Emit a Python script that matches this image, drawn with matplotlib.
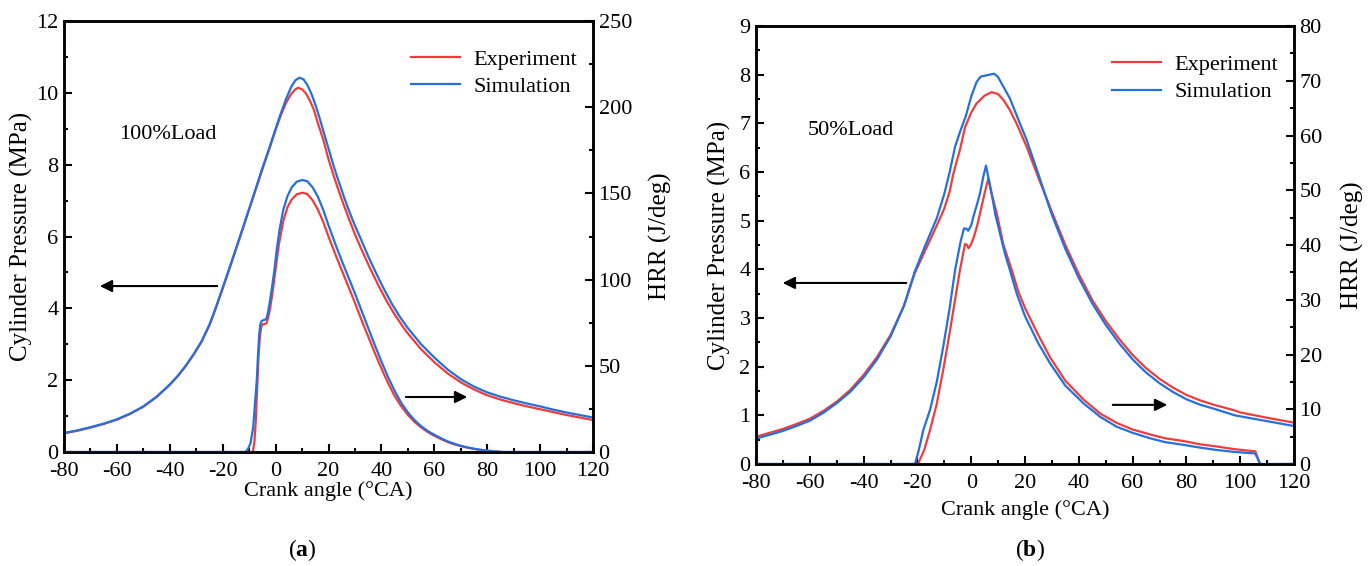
import matplotlib
matplotlib.use('Agg')
import matplotlib.pyplot as plt
from matplotlib.ticker import MultipleLocator

plt.rcParams['font.family'] = ['Liberation Serif', 'DejaVu Serif']
plt.rcParams['axes.unicode_minus'] = False
plt.rcParams['mathtext.fontset'] = 'custom'
plt.rcParams['mathtext.rm'] = 'Liberation Serif'
plt.rcParams['mathtext.bf'] = 'Liberation Serif:bold'

RED = '#f03c3c'
BLUE = '#2470dc'

# ---- (a) 100% load ----
ca_pexp_a = [-80, -75, -70, -65, -60, -55, -50, -45, -40, -37, -34, -31, -28, -25, -23, -21, -17, -14, -11, -8, -5, -2, 0, 2, 4, 6, 7.5, 8.5, 10, 11.5, 13, 14.5, 16, 18, 20, 22, 24, 26, 28, 30, 33, 36, 39, 42, 45, 48, 50, 55, 60, 65, 70, 75, 80, 85, 90, 95, 100, 105, 110, 115, 120]
p_exp_a = [0.52, 0.59, 0.68, 0.78, 0.90, 1.06, 1.26, 1.53, 1.87, 2.11, 2.39, 2.71, 3.07, 3.53, 3.92, 4.34, 5.2, 5.86, 6.53, 7.2, 7.87, 8.52, 8.97, 9.38, 9.73, 9.98, 10.1, 10.14, 10.1, 9.98, 9.78, 9.52, 9.15, 8.7, 8.15, 7.68, 7.24, 6.83, 6.44, 6.06, 5.55, 5.07, 4.62, 4.2, 3.83, 3.5, 3.3, 2.86, 2.5, 2.19, 1.94, 1.74, 1.58, 1.46, 1.36, 1.27, 1.19, 1.11, 1.03, 0.96, 0.89]
ca_psim_a = [-80, -75, -70, -65, -60, -55, -50, -45, -40, -37, -34, -31, -28, -25, -23, -21, -17, -14, -11, -8, -5, -2, 0, 2, 4, 6, 7.5, 9, 10.5, 12, 13.5, 15, 16.5, 18, 20, 22, 24, 26, 28, 30, 32.3, 35, 38, 41, 44, 47, 50, 55, 60, 65, 70, 75, 80, 85, 90, 95, 100, 105, 110, 115, 120]
p_sim_a = [0.53, 0.60, 0.69, 0.79, 0.91, 1.07, 1.27, 1.54, 1.88, 2.12, 2.40, 2.72, 3.08, 3.55, 3.94, 4.36, 5.22, 5.88, 6.55, 7.22, 7.9, 8.55, 9.0, 9.43, 9.84, 10.18, 10.35, 10.42, 10.38, 10.22, 9.98, 9.68, 9.33, 8.95, 8.45, 7.95, 7.5, 7.07, 6.67, 6.3, 5.92, 5.45, 4.98, 4.53, 4.12, 3.76, 3.45, 3.0, 2.63, 2.3, 2.03, 1.82, 1.66, 1.54, 1.44, 1.35, 1.27, 1.18, 1.1, 1.03, 0.96]

ca_hexp_a = [-80, -8.6, -8.0, -7.5, -7.0, -6.5, -6.0, -5.5, -5.0, -4.0, -3.4, -2.8, -2.0, -1.2, 0, 1.2, 2.9, 4.5, 6.1, 8, 10.2, 12, 14, 16, 18, 20, 22.5, 25, 27.5, 30, 32.5, 35, 37.5, 40, 42.5, 45, 47.5, 50, 52.5, 55, 57.5, 60, 62.5, 65, 67.5, 70, 72.5, 75, 77.5, 80, 83, 86, 120]
hrr_exp_a = [0, 0, 6, 18, 36, 54, 66, 72, 74, 74.3, 74.8, 78, 84, 92, 106, 120, 134, 142, 146.5, 149.5, 150.4, 149.6, 146, 140.5, 133.5, 125, 115, 105.5, 96, 86.5, 76.5, 67, 57.5, 48.5, 40, 32.5, 26.5, 21.5, 17.5, 14.3, 11.6, 9.4, 7.5, 5.8, 4.5, 3.4, 2.5, 1.75, 1.2, 0.75, 0.3, 0, 0]
ca_hsim_a = [-80, -11.5, -10.5, -9.5, -8.5, -7.8, -7.1, -6.6, -6.2, -5.8, -5.3, -4.5, -3.6, -3.0, -2.3, -1.5, -0.5, 0.4, 1.5, 2.9, 4.5, 6.1, 8, 10.2, 12, 14, 16, 18, 20, 22.5, 25, 27.5, 30, 32.5, 35, 37.5, 40, 42.5, 45, 47.5, 50, 52.5, 55, 57.5, 60, 62.5, 65, 67.5, 70, 72.5, 75, 77.5, 80, 83, 86, 120]
hrr_sim_a = [0, 0, 1.5, 5, 14, 28, 42, 58, 68, 74, 76, 76.5, 77, 80, 86, 94, 105, 117, 129, 140.5, 148.5, 153.5, 156.8, 157.8, 157, 153.5, 148, 140.5, 131.5, 121, 111, 101.5, 92, 82, 72, 62, 52.5, 43.5, 35.5, 28.5, 23, 18.5, 15, 12.2, 10, 8, 6.2, 4.8, 3.6, 2.7, 1.9, 1.3, 0.8, 0.35, 0, 0]

# ---- (b) 50% load ----
ca_pexp_b = [-80, -75, -70, -65, -60, -55, -50, -45, -40, -35, -30, -25, -21, -17, -12.8, -10, -8, -6.7, -4, -2.3, 0, 2, 5, 7.6, 10, 12, 14.4, 17, 20.6, 25, 30, 35, 40, 45, 50, 55, 60, 65, 70, 75, 80, 85, 90, 98, 100, 110, 120]
p_exp_b = [0.56, 0.64, 0.72, 0.82, 0.93, 1.09, 1.28, 1.52, 1.83, 2.2, 2.65, 3.25, 3.92, 4.4, 4.9, 5.25, 5.6, 5.95, 6.5, 6.92, 7.22, 7.41, 7.57, 7.64, 7.6, 7.48, 7.27, 6.98, 6.52, 5.88, 5.18, 4.5, 3.9, 3.37, 2.94, 2.57, 2.24, 1.97, 1.75, 1.57, 1.42, 1.31, 1.22, 1.1, 1.06, 0.95, 0.85]
ca_psim_b = [-80, -75, -70, -65, -60, -55, -50, -45, -40, -35, -30, -25, -21, -17, -12.8, -10, -8, -6, -4, -2, 0, 2, 3.5, 6, 8.5, 10, 12, 14.4, 17, 20.6, 25, 30, 35, 40, 45, 50, 55, 60, 65, 70, 75, 80, 85, 90, 98, 100, 110, 120]
p_sim_b = [0.52, 0.60, 0.68, 0.78, 0.89, 1.05, 1.25, 1.48, 1.78, 2.15, 2.62, 3.25, 3.95, 4.5, 5.05, 5.55, 6.0, 6.52, 6.85, 7.15, 7.55, 7.85, 7.96, 7.99, 8.02, 7.95, 7.75, 7.51, 7.15, 6.66, 5.95, 5.12, 4.42, 3.82, 3.3, 2.86, 2.48, 2.15, 1.88, 1.66, 1.48, 1.33, 1.22, 1.14, 1.0, 0.98, 0.88, 0.78]

ca_hexp_b = [-80, -19.8, -17.5, -15.3, -12.8, -10.4, -8, -6, -4.2, -2.3, -1.6, -1.0, 0, 1, 2.2, 3.3, 5, 6.4, 7.5, 9.5, 12, 15.1, 17.5, 20, 25, 29.3, 35, 41.7, 48, 54.1, 60, 66.5, 72, 78.9, 85, 91.3, 98, 104.9, 105.6, 107.4, 120]
hrr_exp_b = [0, 0, 2.5, 6.2, 11, 17.2, 24, 30, 35.4, 40.2, 40.0, 39.4, 40.2, 41.5, 43.5, 45.8, 49.5, 52.2, 49.5, 45.8, 40, 35.4, 31.5, 28.5, 23.5, 19.5, 15.2, 11.8, 9.2, 7.5, 6.3, 5.4, 4.7, 4.2, 3.6, 3.2, 2.7, 2.35, 2.3, 0, 0]
ca_hsim_b = [-80, -20.9, -19.5, -17.8, -15.3, -12.8, -10.4, -8, -6, -4, -2.7, -1.8, -1.1, 0, 1, 2.2, 3.3, 4.5, 5.5, 6.5, 7.6, 9, 10.7, 12.5, 14.4, 17, 20, 25, 29.3, 35, 41.7, 48, 54.1, 60, 66.5, 72, 78.9, 85, 91.3, 98, 104.9, 105.6, 107.4, 120]
hrr_sim_b = [0, 0, 2.5, 6.2, 9.9, 15, 21.4, 28.5, 35.4, 40.5, 43.0, 43.0, 42.6, 43.6, 45.5, 47.5, 49.5, 52.5, 54.5, 52, 49.4, 45.5, 42.1, 38.5, 35.4, 31, 27, 22, 18.4, 14.3, 11.1, 8.6, 6.8, 5.7, 4.7, 4.0, 3.5, 3.0, 2.56, 2.2, 1.95, 1.9, 0, 0]

x_ticks = [-80, -60, -40, -20, 0, 20, 40, 60, 80, 100, 120]
FS = 16
LFS = 18


def panel(rect, pexp, psim, hexp, hsim, pmax, pstep, hmax, hstep, load_txt, txt_xy,
          larr, rarr, tag, tag_x, lpad):
    ax = fig.add_axes(rect)
    ax2 = ax.twinx()
    ax.plot(pexp[0], pexp[1], color=RED, lw=1.6, label='Experiment')
    ax.plot(psim[0], psim[1], color=BLUE, lw=1.6, label='Simulation')
    ax2.plot(hexp[0], hexp[1], color=RED, lw=1.6)
    ax2.plot(hsim[0], hsim[1], color=BLUE, lw=1.6)

    ax.set_xlim(-80, 120)
    ax.set_ylim(0, pmax)
    ax2.set_ylim(0, hmax)
    ax.set_xticks(x_ticks)
    ax.xaxis.set_minor_locator(MultipleLocator(10))
    ax.yaxis.set_major_locator(MultipleLocator(pstep))
    ax.yaxis.set_minor_locator(MultipleLocator(pstep / 2))
    ax2.yaxis.set_major_locator(MultipleLocator(hstep))
    ax2.yaxis.set_minor_locator(MultipleLocator(hstep / 2))

    for a in (ax, ax2):
        a.tick_params(which='major', direction='in', length=6, width=1.5, labelsize=FS, pad=4)
        a.tick_params(which='minor', direction='in', length=3, width=1.5)
        for s in a.spines.values():
            s.set_linewidth(1.8)
    ax.tick_params(which='both', top=False, right=False)
    ax.tick_params(axis='x', which='major', pad=7)

    ax.set_xlabel('Crank angle (°CA)', fontsize=FS, labelpad=lpad[2])
    ax.set_ylabel('Cylinder Pressure (MPa)', fontsize=LFS, labelpad=lpad[0])
    ax2.set_ylabel('HRR (J/deg)', fontsize=LFS, labelpad=lpad[1])

    ax.text(txt_xy[0], txt_xy[1], load_txt, fontsize=FS, ha='left', va='center')
    ax.annotate('', xy=(larr[1], larr[2]), xytext=(larr[0], larr[2]),
                arrowprops=dict(arrowstyle='-|>', color='k', lw=1.5, mutation_scale=18))
    ax2.annotate('', xy=(rarr[1], rarr[2]), xytext=(rarr[0], rarr[2]),
                 arrowprops=dict(arrowstyle='-|>', color='k', lw=1.5, mutation_scale=18))

    ax.legend(loc='upper right', frameon=False, fontsize=FS, handlelength=2.2,
              handletextpad=0.6, labelspacing=0.3, borderaxespad=0.3,
              bbox_to_anchor=(1.0, 0.97))
    fig.text(tag_x, 0.018, r'($\mathbf{%s}$)' % tag, fontsize=17, ha='center')
    return ax, ax2


fig = plt.figure(figsize=(13.68, 5.66), dpi=100)

panel([64 / 1368, 1 - 452 / 566, 529 / 1368, 431 / 566],
      (ca_pexp_a, p_exp_a), (ca_psim_a, p_sim_a),
      (ca_hexp_a, hrr_exp_a), (ca_hsim_a, hrr_sim_a),
      12, 2, 250, 50, '100%Load', (-59, 8.85),
      (-21, -67.5, 4.62), (48.2, 73.5, 31.9), 'a', 302 / 1368, (2, 12, 0.5))

panel([756 / 1368, 1 - 464 / 566, 538 / 1368, 438 / 566],
      (ca_pexp_b, p_exp_b), (ca_psim_b, p_sim_b),
      (ca_hexp_b, hrr_exp_b), (ca_hsim_b, hrr_sim_b),
      9, 1, 80, 10, '50%Load', (-60.7, 6.86),
      (-23.1, -71.1, 3.72), (51.6, 73.9, 10.8), 'b', 1030 / 1368, (6, 14, 5))

fig.savefig('out.png', dpi=100)
